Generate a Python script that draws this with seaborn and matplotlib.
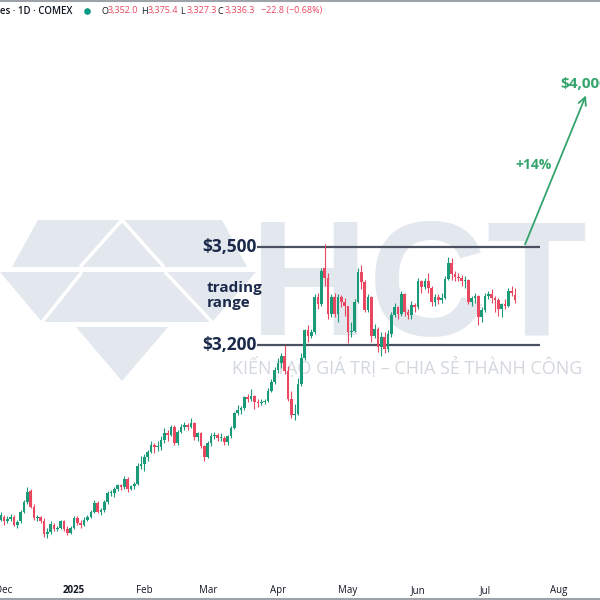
import numpy as np
import pandas as pd
import matplotlib
matplotlib.use("Agg")
import matplotlib.pyplot as plt
from matplotlib.patches import Polygon, FancyArrowPatch
import seaborn as sns

# ---------------- data ----------------
open_ = [2665, 2675, 2660, 2668, 2675, 2650, 2660, 2690, 2718, 2752, 2705, 2670, 2672, 2660, 2622, 2628,
         2650, 2638, 2640, 2660, 2637, 2625,
         2641, 2670, 2655, 2648, 2665, 2675, 2690, 2717, 2690, 2694, 2718, 2747, 2748, 2760, 2770, 2766,
         2791, 2760, 2768, 2774, 2830,
         2835, 2857, 2873, 2895, 2887, 2888, 2910, 2930, 2925, 2950, 2900, 2935, 2950, 2955, 2948, 2960,
         2917, 2930, 2890,
         2858, 2900, 2922, 2926, 2915, 2916, 2902, 2920, 2947, 2991, 3000, 3006, 3041, 3036, 3043, 3024,
         3022, 3026, 3030, 3060, 3087,
         3122, 3146, 3166, 3121, 3036, 2985, 2989, 3080, 3160, 3245, 3229, 3241, 3347, 3327, 3435, 3405,
         3294, 3348, 3294, 3347, 3333,
         3319, 3240, 3243, 3333, 3423, 3392, 3306, 3346, 3227, 3249, 3194, 3226, 3187, 3233, 3292, 3316,
         3295, 3357, 3300, 3293, 3323,
         3315, 3397, 3378, 3397, 3375, 3331, 3346, 3338, 3344, 3402, 3452, 3417, 3409, 3404, 3395, 3400,
         3333, 3343, 3349, 3287,
         3307, 3349, 3357, 3343, 3338, 3309, 3325, 3320, 3365, 3352.0]
high = [2690, 2680, 2675, 2682, 2680, 2665, 2695, 2725, 2765, 2758, 2712, 2680, 2676, 2670, 2640, 2660,
        2656, 2645, 2665, 2663, 2645, 2645,
        2675, 2676, 2665, 2672, 2680, 2695, 2725, 2722, 2700, 2725, 2752, 2755, 2765, 2775, 2776, 2800,
        2795, 2772, 2780, 2840, 2860,
        2865, 2880, 2905, 2900, 2905, 2920, 2945, 2940, 2955, 2955, 2940, 2958, 2965, 2962, 2975, 2965,
        2935, 2935, 2895,
        2905, 2930, 2935, 2932, 2930, 2920, 2925, 2952, 2995, 3017, 3012, 3045, 3050, 3065, 3048, 3035,
        3035, 3035, 3068, 3095, 3132,
        3160, 3175, 3200, 3135, 3060, 3020, 3100, 3175, 3250, 3260, 3250, 3355, 3360, 3435, 3509, 3420,
        3355, 3360, 3355, 3352, 3345,
        3320, 3270, 3340, 3435, 3445, 3400, 3355, 3350, 3265, 3255, 3240, 3240, 3245, 3300, 3330, 3320,
        3365, 3360, 3310, 3335, 3330,
        3405, 3400, 3405, 3420, 3380, 3355, 3355, 3360, 3410, 3468, 3465, 3425, 3420, 3415, 3410, 3402,
        3350, 3360, 3352, 3315,
        3360, 3365, 3370, 3350, 3345, 3330, 3340, 3375, 3380, 3375.4]
low = [2660, 2650, 2655, 2660, 2645, 2640, 2655, 2685, 2712, 2700, 2665, 2660, 2655, 2612, 2608, 2620,
       2632, 2632, 2636, 2632, 2618, 2620,
       2638, 2650, 2640, 2645, 2660, 2670, 2686, 2685, 2680, 2690, 2714, 2738, 2735, 2752, 2755, 2760,
       2750, 2755, 2760, 2770, 2820,
       2815, 2845, 2868, 2870, 2875, 2880, 2900, 2905, 2920, 2895, 2895, 2930, 2940, 2940, 2945, 2910,
       2905, 2885, 2845,
       2855, 2890, 2912, 2905, 2905, 2895, 2895, 2915, 2942, 2985, 2990, 3000, 3025, 3030, 3005, 3010,
       3015, 3018, 3025, 3055, 3080,
       3115, 3130, 3110, 3030, 2975, 2970, 2985, 3075, 3155, 3210, 3220, 3235, 3310, 3320, 3380, 3280,
       3285, 3285, 3270, 3315, 3290,
       3205, 3225, 3240, 3330, 3370, 3300, 3300, 3210, 3220, 3180, 3165, 3175, 3180, 3225, 3285, 3280,
       3290, 3290, 3280, 3280, 3300,
       3310, 3360, 3370, 3360, 3320, 3320, 3325, 3330, 3340, 3400, 3400, 3395, 3395, 3380, 3375, 3325,
       3320, 3330, 3260, 3270,
       3300, 3340, 3330, 3300, 3290, 3285, 3310, 3315, 3350, 3327.3]
close = [2680, 2660, 2668, 2675, 2650, 2657, 2690, 2718, 2750, 2705, 2670, 2672, 2660, 2622, 2628, 2652,
         2638, 2640, 2660, 2637, 2625, 2641,
         2670, 2655, 2648, 2665, 2675, 2690, 2717, 2690, 2694, 2718, 2747, 2748, 2760, 2770, 2766, 2791,
         2760, 2768, 2774, 2830, 2835,
         2857, 2873, 2895, 2887, 2888, 2910, 2930, 2925, 2950, 2900, 2935, 2950, 2955, 2948, 2960, 2917,
         2930, 2890, 2858,
         2900, 2922, 2926, 2915, 2916, 2902, 2920, 2947, 2991, 3000, 3006, 3041, 3036, 3043, 3024, 3022,
         3026, 3030, 3060, 3087, 3122,
         3146, 3166, 3121, 3036, 2985, 2989, 3080, 3160, 3245, 3229, 3241, 3347, 3327, 3425, 3405, 3294,
         3348, 3294, 3347, 3333, 3319,
         3240, 3243, 3333, 3423, 3392, 3306, 3346, 3227, 3249, 3194, 3226, 3187, 3233, 3292, 3316, 3295,
         3357, 3300, 3293, 3323, 3315,
         3397, 3378, 3397, 3375, 3331, 3346, 3338, 3344, 3402, 3452, 3417, 3409, 3404, 3395, 3400, 3333,
         3343, 3349, 3287, 3307,
         3349, 3357, 3343, 3338, 3309, 3325, 3320, 3365, 3359, 3336.3]

first_day = "2024-11-29"
holidays = ["2024-12-25", "2025-01-01", "2025-01-20", "2025-02-17", "2025-04-18",
            "2025-05-26", "2025-06-19", "2025-07-04"]
month_labels = ["Dec", "2025", "Feb", "Mar", "Apr", "May", "Jun", "Jul", "Aug"]

range_levels = [3200, 3500]
range_labels = ["$3,200", "$3,500"]
range_text = "trading\nrange"
target_price = 4000
target_label = "$4,000"
move_label = "+14%"

header_symbol = "Gold Futures · 1D · COMEX"
header_ohlc = [("O", "3,352.0"), ("H", "3,375.4"), ("L", "3,327.3"), ("C", "3,336.3")]
header_change = "−22.8 (−0.68%)"
watermark_text = "HCT"
tagline = "KIẾN TẠO GIÁ TRỊ – CHIA SẺ THÀNH CÔNG"

# ---------------- style ----------------
sns.set_theme(style="white")
plt.rcParams["font.family"] = ["Open Sans", "DejaVu Sans"]
UP, DOWN = "#1a9a78", "#ea4760"
NAVY = "#1b2a4a"
GREEN = "#34a46c"
WM = "#e3e7ee"

n = len(close)
cal = pd.bdate_range(first_day, "2025-08-29")
cal = cal[~cal.isin(pd.to_datetime(holidays))]
df = pd.DataFrame({"date": cal[:n], "open": open_, "high": high, "low": low, "close": close})
df["x"] = np.arange(n)
df["up"] = df["close"] >= df["open"]
month_pos = [i for i in range(1, len(cal)) if cal[i].month != cal[i - 1].month]

fig = plt.figure(figsize=(6, 6), dpi=100)

# background (watermark) layer in pixel coordinates
bg = fig.add_axes([0, 0, 1, 1], zorder=0)
bg.set_xlim(0, 600)
bg.set_ylim(600, 0)
bg.axis("off")
for poly in ([(38, 220), (222, 220), (247, 267), (12, 267)],
             [(0, 272), (256, 272), (212, 322), (42, 322)],
             [(76, 327), (168, 327), (122, 381)]):
    bg.add_patch(Polygon(poly, closed=True, facecolor=WM, edgecolor="none"))
for seg in ([(80, 267), (122, 220), (164, 267)], [(42, 322), (82, 272)], [(212, 322), (165, 272)]):
    xs, ys = zip(*seg)
    bg.plot(xs, ys, color="white", lw=2.5, solid_capstyle="butt")
bg.text(250, 335, watermark_text, fontsize=118, family="Liberation Sans", fontweight="bold",
        color=WM, ha="left", va="baseline")
bg.text(232, 367, tagline, fontsize=13, color="#d3d7de", ha="left", va="center")
bg.plot([0, 600], [1, 1], color="#9ea2a9", lw=1.5)
bg.plot([0, 600], [598.5, 598.5], color="#9ea2a9", lw=1.5)

# header
hy = 11
bg.text(72, hy, header_symbol, ha="right", va="center", fontsize=7, color="#131722", fontweight="semibold")
bg.scatter([87], [hy], s=14, color="#089981", zorder=3)
xpos = [101, 141, 180, 218]
for (lab, val), xp in zip(header_ohlc, xpos):
    bg.text(xp, hy, lab, ha="left", va="center", fontsize=6.5, color="#131722")
    bg.text(xp + 6.5, hy, val, ha="left", va="center", fontsize=6.5, color=DOWN)
bg.text(261, hy, header_change, ha="left", va="center", fontsize=6.5, color=DOWN)

# main price axes
ax = fig.add_axes([0, 0, 1, 1], zorder=1)
ax.patch.set_alpha(0)
PX_BAR, X0 = 3.34, 0.66
USD_PX = 300 / 98.0
def bx(px):
    return (px - X0) / PX_BAR
ax.set_xlim(bx(0), bx(600))
ax.set_ylim(3500 - 353 * USD_PX, 3500 + 247 * USD_PX)

colors = np.where(df["up"], UP, DOWN)
ax.vlines(df["x"], df["low"], df["high"], colors=colors, lw=0.8, zorder=3)
body_lo = np.minimum(df["open"], df["close"])
body_h = np.maximum(np.abs(df["close"] - df["open"]), 2.5)
ax.bar(df["x"], body_h, bottom=body_lo, width=0.8, color=colors, edgecolor="none", zorder=4)

# trading range
ax.hlines(range_levels, bx(257), bx(540), color="#4a5262", lw=1.6, zorder=2)
for lvl, lab in zip(range_levels, range_labels):
    ax.text(bx(257), lvl, lab, ha="right", va="center", fontsize=12.5, fontweight="bold", color=NAVY)
ax.text(bx(207), (range_levels[0] + range_levels[1]) / 2 + 2, range_text, ha="left", va="center",
        fontsize=11, fontweight="bold", color=NAVY, linespacing=1.05)

# projected move
arr = FancyArrowPatch((bx(524), range_levels[1]), (bx(587), target_price - 28), arrowstyle="->",
                      mutation_scale=14, color=GREEN, lw=1.3, zorder=5)
ax.add_patch(arr)
ax.text(bx(560), target_price, target_label, ha="left", va="center", fontsize=11, fontweight="bold", color=GREEN)
ax.text(bx(533), 3750, move_label, ha="center", va="center", fontsize=10, fontweight="bold", color=GREEN)

ax.set_xticks(month_pos)
ax.set_xticklabels(month_labels)
ax.get_xticklabels()[1].set_fontweight("bold")
ax.tick_params(axis="x", length=0, pad=-10.5, labelsize=7, labelcolor="#131722")
ax.set_yticks([])
for s in ax.spines.values():
    s.set_visible(False)

fig.savefig("out.png", dpi=100)
